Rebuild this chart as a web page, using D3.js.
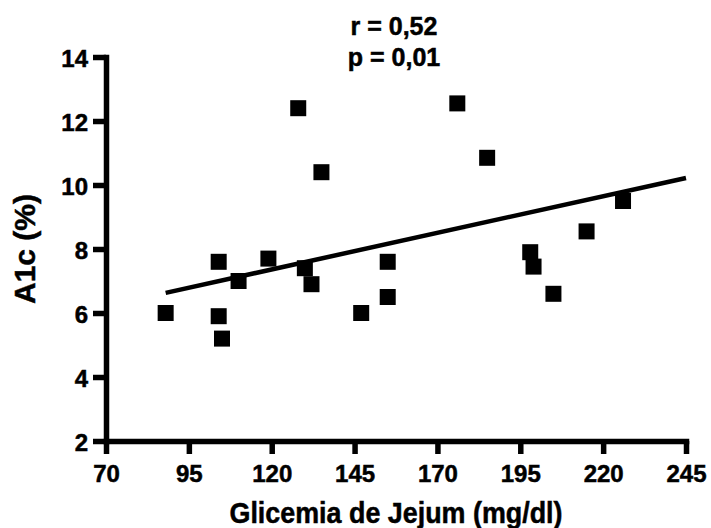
<!DOCTYPE html>
<html>
<head>
<meta charset="utf-8">
<script src="https://cdn.jsdelivr.net/npm/d3@7"></script>
<style>
  html, body { margin: 0; padding: 0; background: #fff; }
  svg { display: block; }
</style>
</head>
<body>
<svg id="chart" width="711" height="528"></svg>
<script>
// ---- Data ----
const glicemia = [88, 104, 104, 105, 110, 119, 128, 130, 132, 135, 147, 155, 155, 176, 185, 198, 199, 205, 215, 226];
const a1c      = [6.0, 7.6, 5.9, 5.2, 7.0, 7.7, 12.4, 7.4, 6.9, 10.4, 6.0, 7.6, 6.5, 12.55, 10.85, 7.9, 7.45, 6.6, 8.55, 9.5];
const fitX = [88, 245];
const fitY = [6.63, 10.22];
const xTicks = [70, 95, 120, 145, 170, 195, 220, 245];
const yTicks = [2, 4, 6, 8, 10, 12, 14];
const statLines = ["r = 0,52", "p = 0,01"];
const xTitle = "Glicemia de Jejum (mg/dl)";
const yTitle = "A1c (%)";

// ---- Layout ----
const svg = d3.select("#chart");
const FONT = "'Liberation Sans', Arial, Helvetica, sans-serif";
const x = d3.scaleLinear().domain([70, 245]).range([106, 686]);
const y = d3.scaleLinear().domain([2, 14]).range([441, 57]);

// X axis
const gx = svg.append("g")
  .attr("transform", `translate(0,${y(2)})`)
  .call(d3.axisBottom(x).tickValues(xTicks).tickSize(13).tickSizeOuter(0).tickPadding(11).tickFormat(d3.format("d")));
// Y axis
const gy = svg.append("g")
  .attr("transform", `translate(${x(70)},0)`)
  .call(d3.axisLeft(y).tickValues(yTicks).tickSize(13).tickSizeOuter(0).tickPadding(5).tickFormat(d3.format("d")));

[gx, gy].forEach(g => {
  g.attr("font-family", FONT).attr("font-size", 24).attr("font-weight", "bold");
  g.select(".domain").attr("stroke", "#000").attr("stroke-width", 5.5).attr("stroke-linecap", "square");
  g.selectAll(".tick line").attr("stroke", "#000").attr("stroke-width", 5.5);
  g.selectAll(".tick text").attr("fill", "#000").attr("stroke", "#000").attr("stroke-width", 0.5);
});
gy.selectAll(".tick text").attr("dy", "0.4em");

// Regression line
svg.append("path")
  .datum(fitX.map((v, i) => [v, fitY[i]]))
  .attr("fill", "none")
  .attr("stroke", "#000")
  .attr("stroke-width", 4.5)
  .attr("d", d3.line().x(d => x(d[0])).y(d => y(d[1])));

// Points (squares)
const S = 16;
svg.append("g").selectAll("rect")
  .data(glicemia.map((v, i) => [v, a1c[i]]))
  .join("rect")
  .attr("x", d => x(d[0]) - S / 2)
  .attr("y", d => y(d[1]) - S / 2)
  .attr("width", S)
  .attr("height", S)
  .attr("fill", "#000");

// Stats text
svg.append("g").selectAll("text")
  .data(statLines)
  .join("text")
  .attr("x", 394)
  .attr("y", (d, i) => 35 + i * 31)
  .attr("text-anchor", "middle")
  .attr("font-family", FONT)
  .attr("font-weight", "bold")
  .attr("font-size", 25)
  .attr("stroke", "#000")
  .attr("stroke-width", 0.5)
  .text(d => d);

// Axis titles
svg.append("text")
  .attr("x", (x(70) + x(245)) / 2)
  .attr("y", 523)
  .attr("text-anchor", "middle")
  .attr("font-family", FONT)
  .attr("font-weight", "bold")
  .attr("font-size", 30)
  .attr("textLength", 333)
  .attr("lengthAdjust", "spacingAndGlyphs")
  .attr("stroke", "#000")
  .attr("stroke-width", 0.5)
  .text(xTitle);

svg.append("text")
  .attr("transform", `translate(35,${(y(2) + y(14)) / 2}) rotate(-90)`)
  .attr("text-anchor", "middle")
  .attr("font-family", FONT)
  .attr("font-weight", "bold")
  .attr("font-size", 30)
  .attr("stroke", "#000")
  .attr("stroke-width", 0.5)
  .text(yTitle);
</script>
</body>
</html>
